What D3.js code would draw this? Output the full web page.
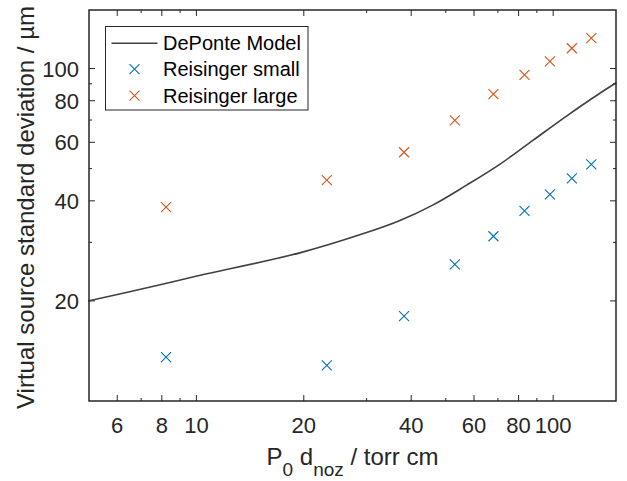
<!DOCTYPE html>
<html>
<head>
<meta charset="utf-8">
<script src="https://cdn.jsdelivr.net/npm/d3@7"></script>
<style>
  body { margin: 0; background: #fff; }
  svg { display: block; font-family: "Liberation Sans", Arial, sans-serif; }
</style>
</head>
<body>
<div id="chart"></div>
<script>
// DePonte model curve
const modelX = [4.97, 7.97, 10.1, 19.5, 30.0, 37.2, 46.1, 57.2, 71.0, 87.9, 109.5, 135.5, 150.3];
const modelY = [20.0, 22.4, 23.8, 27.9, 32.1, 34.9, 38.9, 44.6, 51.6, 60.9, 72.2, 84.4, 90.6];

// Reisinger measurements (same pressures for both sizes)
const reisingerX = [8.22, 23.2, 38.2, 53.0, 68.0, 83.1, 97.9, 112.8, 127.9];
const smallY = [13.55, 12.8, 18.0, 25.75, 31.3, 37.3, 41.8, 46.7, 51.5];
const largeY = [38.3, 46.2, 56.0, 69.8, 83.8, 95.7, 105.1, 115.1, 123.4];

const xTicks = [6, 8, 10, 20, 40, 60, 80, 100];
const xMinorTicks = [7, 9, 30, 50, 70, 90];
const yTicks = [20, 40, 60, 80, 100];
const yMinorTicks = [30, 50, 70, 90];

const legendLabels = ["DePonte Model", "Reisinger small", "Reisinger large"];

const W = 627, H = 481;
const margin = { top: 10, right: 11, bottom: 80, left: 89 };
const w = W - margin.left - margin.right;
const h = H - margin.top - margin.bottom;
const axisColor = "#262626";
const lineColor = "#404040";
const blue = "#0072BD";
const orange = "#D95319";

const svg = d3.select("#chart").append("svg")
  .attr("width", W).attr("height", H);
const g = svg.append("g")
  .attr("transform", `translate(${margin.left},${margin.top})`);

const xScale = d3.scaleLog().domain([5, 150]).range([0, w]);
const yScale = d3.scaleLog().domain([10, 150]).range([h, 0]);

function drawTicks() {
  const ticks = g.append("g").attr("stroke", axisColor).attr("stroke-width", 1);
  const addX = (vals, len) => {
    vals.forEach((v) => {
      const x = xScale(v);
      ticks.append("line").attr("x1", x).attr("x2", x).attr("y1", h).attr("y2", h - len);
      ticks.append("line").attr("x1", x).attr("x2", x).attr("y1", 0).attr("y2", len);
    });
  };
  const addY = (vals, len) => {
    vals.forEach((v) => {
      const y = yScale(v);
      ticks.append("line").attr("y1", y).attr("y2", y).attr("x1", 0).attr("x2", len);
      ticks.append("line").attr("y1", y).attr("y2", y).attr("x1", w).attr("x2", w - len);
    });
  };
  addX(xTicks, 6);
  addX(xMinorTicks, 3);
  addY(yTicks, 6);
  addY(yMinorTicks, 3);

  g.selectAll(".xlab").data(xTicks).enter().append("text")
    .attr("x", (d) => xScale(d))
    .attr("y", h + 32)
    .attr("text-anchor", "middle")
    .attr("fill", axisColor)
    .style("font-size", "22px")
    .text((d) => d);

  g.selectAll(".ylab").data(yTicks).enter().append("text")
    .attr("x", -10)
    .attr("y", (d) => yScale(d) + 8)
    .attr("text-anchor", "end")
    .attr("fill", axisColor)
    .style("font-size", "22px")
    .text((d) => d);
}

function drawData() {
  const line = d3.line()
    .x((d, i) => xScale(modelX[i]))
    .y((d) => yScale(d))
    .curve(d3.curveCatmullRom);
  g.append("path")
    .attr("d", line(modelY))
    .attr("fill", "none")
    .attr("stroke", lineColor)
    .attr("stroke-width", 1.6);

  const cross = (sel, color) => {
    sel.append("path")
      .attr("d", "M-5,-5L5,5M-5,5L5,-5")
      .attr("stroke", color)
      .attr("stroke-width", 1.1)
      .attr("fill", "none");
  };
  [[smallY, blue], [largeY, orange]].forEach(([ys, color]) => {
    const pts = g.append("g").selectAll("g").data(ys).enter().append("g")
      .attr("transform", (d, i) => `translate(${xScale(reisingerX[i])},${yScale(d)})`);
    cross(pts, color);
  });
}

function drawFrame() {
  g.append("rect")
    .attr("width", w).attr("height", h)
    .attr("fill", "none")
    .attr("stroke", axisColor)
    .attr("stroke-width", 1.5);
}

function drawLabels() {
  const xl = svg.append("text")
    .attr("x", margin.left + w / 2)
    .attr("y", 465)
    .attr("text-anchor", "middle")
    .attr("fill", axisColor)
    .style("font-size", "24px");
  xl.append("tspan").text("P");
  xl.append("tspan").attr("dy", 11).style("font-size", "19px").text("0");
  xl.append("tspan").attr("dy", -11).text(" d");
  xl.append("tspan").attr("dy", 11).style("font-size", "19px").text("noz");
  xl.append("tspan").attr("dy", -11).text(" / torr cm");

  svg.append("text")
    .attr("transform", `translate(34,${margin.top + h / 2 + 2}) rotate(-90)`)
    .attr("text-anchor", "middle")
    .attr("fill", axisColor)
    .style("font-size", "24px")
    .text("Virtual source standard deviation / µm");
}

function drawLegend() {
  const lg = svg.append("g").attr("transform", "translate(105.5,26.5)");
  lg.append("rect")
    .attr("width", 202.5).attr("height", 83.5)
    .attr("fill", "#fff")
    .attr("stroke", axisColor)
    .attr("stroke-width", 1);
  const rows = [16.8, 42.6, 69.2];
  lg.append("line")
    .attr("x1", 6).attr("x2", 52).attr("y1", rows[0]).attr("y2", rows[0])
    .attr("stroke", lineColor).attr("stroke-width", 1.6);
  [[1, blue], [2, orange]].forEach(([i, color]) => {
    lg.append("path")
      .attr("transform", `translate(29,${rows[i]})`)
      .attr("d", "M-5,-5L5,5M-5,5L5,-5")
      .attr("stroke", color).attr("stroke-width", 1.1).attr("fill", "none");
  });
  lg.selectAll(".lt").data(legendLabels).enter().append("text")
    .attr("x", 57.5)
    .attr("y", (d, i) => rows[i] + 7)
    .attr("fill", "#000")
    .style("font-size", "20px")
    .text((d) => d);
}

drawTicks();
drawData();
drawFrame();
drawLabels();
drawLegend();
</script>
</body>
</html>
